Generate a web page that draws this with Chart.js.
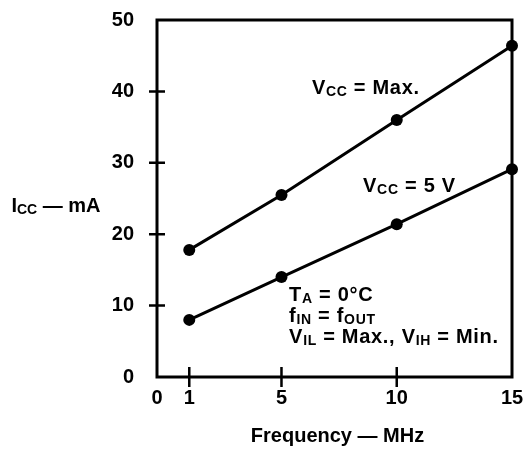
<!DOCTYPE html>
<html>
<head>
<meta charset="utf-8">
<script src="https://cdn.jsdelivr.net/npm/chart.js@4"></script>
<style>
  html, body { margin: 0; padding: 0; background: #fff; }
  canvas { display: block; }
</style>
</head>
<body>
<canvas id="iccChart" width="529" height="452"></canvas>
<script>
// Icc vs frequency
const frequencyMHz = [1, 5, 10, 15];
const iccAtVccMax = [17.8, 25.5, 36.0, 46.4];
const iccAtVcc5V = [8.0, 14.0, 21.4, 29.1];
const xTickValues = [0, 1, 5, 10, 15];
const yTickValues = [0, 10, 20, 30, 40, 50];
const xMarkValues = [1, 5, 10];
const yMarkValues = [10, 20, 30, 40];

// the printed axis origin "0" sits a bit left of where a linear 0 would be
const X_ORIGIN = -0.4;
const FONT = "'Liberation Sans', Arial, Helvetica, sans-serif";
const WEIGHT = "bold";
const MAIN_SIZE = 20;
const SUB_SIZE = 14;
const INK = "#000";

const notes = [
  { x: 6.32, y: 39.6, parts: [["V"], ["CC", true], [" = Max."]] },
  { x: 8.54, y: 25.9, parts: [["V"], ["CC", true], [" = 5 V"]] },
  { x: 5.33, y: 10.6, parts: [["T"], ["A", true], [" = 0°C"]] },
  { x: 5.33, y: 7.7, parts: [["f"], ["IN", true], [" = f"], ["OUT", true]] },
  { x: 5.33, y: 4.76, parts: [["V"], ["IL", true], [" = Max., V"], ["IH", true], [" = Min."]] }
];

const setFont = (ctx, isSub) => {
  ctx.font = `${WEIGHT} ${isSub ? SUB_SIZE : MAIN_SIZE}px ${FONT}`;
};

const measureRich = (ctx, parts) => {
  let width = 0;
  parts.forEach(([text, isSub]) => {
    setFont(ctx, isSub);
    width += ctx.measureText(text).width;
  });
  return width;
};

const drawRich = (ctx, parts, x, y) => {
  let cursor = x;
  parts.forEach(([text, isSub]) => {
    setFont(ctx, isSub);
    ctx.fillText(text, cursor, isSub ? y + 2 : y);
    cursor += ctx.measureText(text).width;
  });
};

const framePlugin = {
  id: "frame",
  beforeDatasetsDraw: (chart) => {
    const { ctx, chartArea, scales } = chart;
    ctx.save();
    ctx.strokeStyle = INK;
    ctx.lineWidth = 3;
    ctx.strokeRect(chartArea.left, chartArea.top, chartArea.right - chartArea.left, chartArea.bottom - chartArea.top);

    ctx.lineWidth = 2.5;
    ctx.beginPath();
    yMarkValues.forEach((value) => {
      const py = scales.y.getPixelForValue(value);
      ctx.moveTo(chartArea.left - 8, py);
      ctx.lineTo(chartArea.left + 8, py);
    });
    xMarkValues.forEach((value) => {
      const px = scales.x.getPixelForValue(value);
      ctx.moveTo(px, chartArea.bottom - 10);
      ctx.lineTo(px, chartArea.bottom + 10);
    });
    ctx.stroke();
    ctx.restore();
  },
  afterDraw: (chart) => {
    const { ctx, chartArea, scales } = chart;
    ctx.save();
    ctx.fillStyle = INK;
    ctx.textBaseline = "alphabetic";
    ctx.textAlign = "left";

    // the printed notes are set a little looser than the axis text
    ctx.letterSpacing = "0.7px";
    notes.forEach((note) => {
      drawRich(ctx, note.parts, scales.x.getPixelForValue(note.x), scales.y.getPixelForValue(note.y));
    });
    ctx.letterSpacing = "0px";

    const yTitle = [["I"], ["CC", true], [" — mA"]];
    drawRich(ctx, yTitle, 56 - measureRich(ctx, yTitle) / 2, 212);

    const xTitle = [["Frequency — MHz"]];
    const center = (chartArea.left + chartArea.right) / 2 + 3;
    drawRich(ctx, xTitle, center - measureRich(ctx, xTitle) / 2, 442);
    ctx.restore();
  }
};

const lineStyle = {
  borderColor: INK,
  backgroundColor: INK,
  borderWidth: 3,
  pointRadius: 6,
  pointBorderWidth: 0,
  pointBackgroundColor: INK,
  tension: 0,
  clip: false
};

const noScalePadding = (scale) => {
  scale.paddingTop = 0;
  scale.paddingBottom = 0;
  scale.paddingLeft = 0;
  scale.paddingRight = 0;
};

new Chart(document.getElementById("iccChart"), {
  type: "line",
  data: {
    datasets: [
      { label: "VCC = Max.", data: frequencyMHz.map((f, i) => ({ x: f, y: iccAtVccMax[i] })), ...lineStyle },
      { label: "VCC = 5 V", data: frequencyMHz.map((f, i) => ({ x: f, y: iccAtVcc5V[i] })), ...lineStyle }
    ]
  },
  options: {
    responsive: false,
    animation: false,
    layout: { padding: { top: 20, right: 17, left: 0, bottom: 0 } },
    plugins: {
      legend: { display: false },
      tooltip: { enabled: false }
    },
    scales: {
      x: {
        type: "linear",
        min: X_ORIGIN,
        max: 15,
        afterBuildTicks: (scale) => {
          scale.ticks = xTickValues.map((v) => ({ value: v === 0 ? X_ORIGIN : v }));
        },
        afterFit: (scale) => {
          scale.height = 75;
          noScalePadding(scale);
        },
        grid: { display: false },
        border: { display: false },
        ticks: {
          color: INK,
          padding: 1,
          maxRotation: 0,
          autoSkip: false,
          font: { family: FONT, size: MAIN_SIZE, weight: WEIGHT },
          callback: (_value, index) => String(xTickValues[index])
        }
      },
      y: {
        type: "linear",
        min: 0,
        max: 50,
        afterBuildTicks: (scale) => {
          scale.ticks = yTickValues.map((v) => ({ value: v }));
        },
        afterFit: (scale) => {
          scale.width = 157;
          noScalePadding(scale);
        },
        grid: { display: false },
        border: { display: false },
        ticks: {
          color: INK,
          padding: 15,
          font: { family: FONT, size: MAIN_SIZE, weight: WEIGHT }
        }
      }
    }
  },
  plugins: [framePlugin]
});
</script>
</body>
</html>
